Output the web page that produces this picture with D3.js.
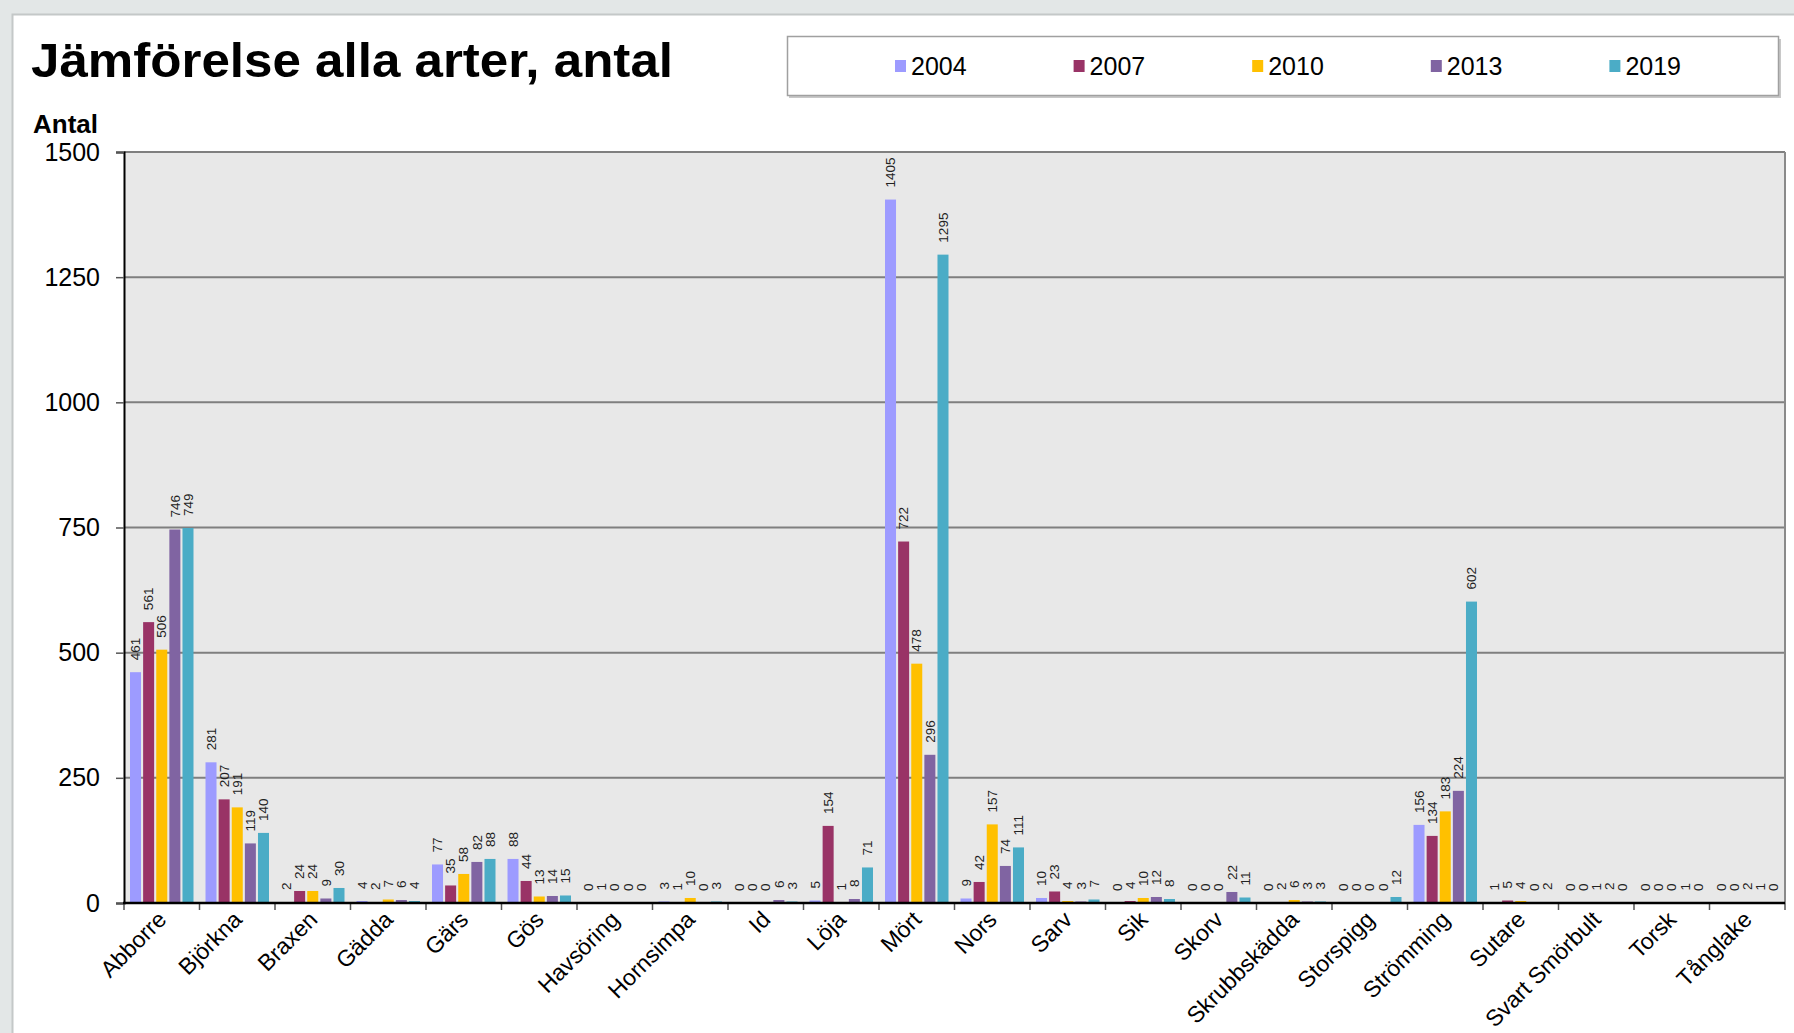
<!DOCTYPE html>
<html>
<head>
<meta charset="utf-8">
<script src="https://cdn.jsdelivr.net/npm/d3@7"></script>
<style>
  body { margin: 0; background: #e3e7e7; }
  svg { display: block; font-family: "Liberation Sans", Arial, sans-serif; }
</style>
</head>
<body>
<svg width="1794" height="1033"></svg>
<script>
var species = ["Abborre", "Björkna", "Braxen", "Gädda", "Gärs", "Gös", "Havsöring",
  "Hornsimpa", "Id", "Löja", "Mört", "Nors", "Sarv", "Sik", "Skorv", "Skrubbskädda",
  "Storspigg", "Strömming", "Sutare", "Svart Smörbult", "Torsk", "Tånglake"];
var years = ["2004", "2007", "2010", "2013", "2019"];
var colors = ["#9d9bff", "#993366", "#ffc000", "#8064a2", "#4bacc6"];

var v2004 = [461, 281, 2, 4, 77, 88, 0, 3, 0, 5, 1405, 9, 10, 0, 0, 0, 0, 156, 1, 0, 0, 0];
var v2007 = [561, 207, 24, 2, 35, 44, 1, 1, 0, 154, 722, 42, 23, 4, 0, 2, 0, 134, 5, 0, 0, 0];
var v2010 = [506, 191, 24, 7, 58, 13, 0, 10, 0, 1, 478, 157, 4, 10, 0, 6, 0, 183, 4, 1, 0, 2];
var v2013 = [746, 119, 9, 6, 82, 14, 0, 0, 6, 8, 296, 74, 3, 12, 22, 3, 0, 224, 0, 2, 1, 1];
var v2019 = [749, 140, 30, 4, 88, 15, 0, 3, 3, 71, 1295, 111, 7, 8, 11, 3, 12, 602, 2, 0, 0, 0];
var series = [v2004, v2007, v2010, v2013, v2019];

var yTicks = [0, 250, 500, 750, 1000, 1250, 1500];

const svg = d3.select("svg");
const plotL = 124, plotR = 1785, plotT = 152, plotB = 903;

// white panel
svg.append("rect").attr("x", 12.5).attr("y", 14.5).attr("width", 1800).attr("height", 1040)
  .attr("fill", "white").attr("stroke", "#c4c8c8").attr("stroke-width", 2);

svg.append("text").attr("x", 31).attr("y", 77)
  .attr("font-size", 49).attr("font-weight", "bold")
  .attr("textLength", 642).attr("lengthAdjust", "spacingAndGlyphs")
  .text("Jämförelse alla arter, antal");

// legend
svg.append("rect").attr("x", 789).attr("y", 39).attr("width", 992).attr("height", 59)
  .attr("fill", "#c8c8c8");
svg.append("rect").attr("x", 787.5).attr("y", 36.5).attr("width", 991).attr("height", 59)
  .attr("fill", "white").attr("stroke", "#a0a0a0").attr("stroke-width", 1.5);
const legendX = d3.scaleBand().domain(years).range([895, 1788]);
const lg = svg.append("g").selectAll("g").data(years).enter().append("g")
  .attr("transform", d => `translate(${legendX(d)},66)`);
lg.append("rect").attr("x", 0).attr("y", -6).attr("width", 11).attr("height", 12)
  .attr("fill", (d, i) => colors[i]);
lg.append("text").attr("x", 16).attr("dy", "0.35em").attr("font-size", 25).text(d => d);

svg.append("text").attr("x", 33).attr("y", 133).attr("font-size", 26)
  .attr("font-weight", "bold").text("Antal");

const xScale = d3.scaleBand().domain(species).range([plotL, plotR]);
const bw = xScale.bandwidth();
const inner = d3.scaleBand().domain(years).range([6, bw - 6]).paddingInner(0.16);
const yScale = d3.scaleLinear().domain([0, 1500]).range([plotB, plotT]);

svg.append("rect").attr("x", plotL).attr("y", plotT).attr("width", plotR - plotL)
  .attr("height", plotB - plotT).attr("fill", "#e8e8e8");

// gridlines
svg.append("g").selectAll("line").data(yTicks.slice(1)).enter().append("line")
  .attr("x1", plotL).attr("x2", plotR)
  .attr("y1", d => yScale(d)).attr("y2", d => yScale(d))
  .attr("stroke", "#7f7f7f").attr("stroke-width", 2);
svg.append("line").attr("x1", plotR).attr("x2", plotR).attr("y1", plotT).attr("y2", plotB)
  .attr("stroke", "#8a8a8a").attr("stroke-width", 2);

// bars
const rows = [];
species.forEach((s, i) => years.forEach((y, j) => rows.push({ s: s, y: y, j: j, v: series[j][i] })));
svg.append("g").selectAll("rect").data(rows).enter().append("rect")
  .attr("x", d => xScale(d.s) + inner(d.y))
  .attr("y", d => yScale(d.v))
  .attr("width", inner.bandwidth())
  .attr("height", d => plotB - yScale(d.v))
  .attr("fill", d => colors[d.j]);

svg.append("g").selectAll("text").data(rows).enter().append("text")
  .attr("transform", d => `translate(${xScale(d.s) + inner(d.y) + inner.bandwidth() / 2},${yScale(d.v) - 12}) rotate(-90)`)
  .attr("dy", "0.35em")
  .attr("font-size", 13.5).attr("fill", "#222")
  .text(d => d.v);

// y axis
const yAxis = d3.axisLeft(yScale).tickValues(yTicks).tickSize(8).tickPadding(16)
  .tickFormat(d3.format("d"));
const yG = svg.append("g").attr("transform", `translate(${plotL},0)`).call(yAxis);
yG.select(".domain").attr("stroke", "#000").attr("stroke-width", 2);
yG.selectAll(".tick line").attr("stroke", "#555").attr("stroke-width", 1.5);
yG.selectAll("text").attr("font-size", 25).attr("font-family", "Liberation Sans, Arial, sans-serif").attr("fill", "#000");

// x axis
const xAxis = d3.axisBottom(xScale).tickSize(0).tickPadding(0);
const xG = svg.append("g").attr("transform", `translate(0,${plotB})`).call(xAxis);
xG.select(".domain").remove();
xG.selectAll(".tick text")
  .attr("font-size", 23).attr("font-family", "Liberation Sans, Arial, sans-serif").attr("fill", "#000")
  .attr("text-anchor", "end").attr("dy", 0)
  .attr("transform", "translate(6,18) rotate(-45)");
svg.append("g").selectAll("line").data(species.concat([null])).enter().append("line")
  .attr("x1", d => d ? xScale(d) : plotR).attr("x2", d => d ? xScale(d) : plotR)
  .attr("y1", plotB).attr("y2", plotB + 7)
  .attr("stroke", "#555").attr("stroke-width", 1.5);
svg.append("line").attr("x1", plotL - 1).attr("x2", plotR).attr("y1", plotB).attr("y2", plotB)
  .attr("stroke", "#000").attr("stroke-width", 2.5);
</script>
</body>
</html>
